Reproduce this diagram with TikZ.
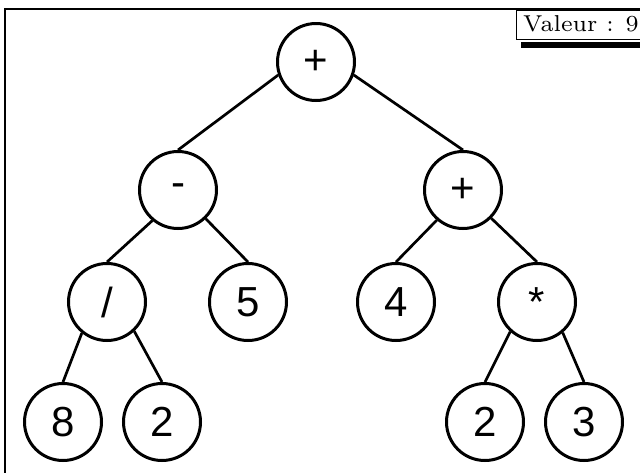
\documentclass[tikz,border=0pt]{standalone}
\usepackage{fontspec}
\newfontfamily\nodefont{Liberation Sans}
\newfontfamily\valfont{lmroman7-regular.otf}
\begin{document}
\begin{tikzpicture}[x=1pt,y=-1pt,
  treenode/.style={circle,draw,line width=3pt,minimum size=77pt,inner sep=0pt,
    font=\nodefont\fontsize{42}{46}\selectfont},
  edge/.style={line width=2.7pt}]
\useasboundingbox (0,0) rectangle (640,472);
\clip (0,0) rectangle (640,472);
\draw[line width=2.2pt] (5,9) rectangle (660,490);
% value box
\fill (521,42) rectangle (660,48);
\node[draw,fill=white,line width=1pt,minimum width=140pt,minimum height=29pt,anchor=north west,inner sep=0pt] (valbox) at (516,10) {};
\node[anchor=base west,font=\valfont\fontsize{23}{26}\selectfont,inner sep=0pt] (val) at (523,31) {Valeur : 9};
% tree
\node[treenode] (root) at (316,62) {+};
\node[treenode] (minus) at (178,190) {-};
\node[treenode] (plusb) at (463,190) {+};
\node[treenode] (div) at (107,302) {/};
\node[treenode] (five) at (248,302) {5};
\node[treenode] (four) at (396,302) {4};
\node[treenode] (star) at (537,302) {*};
\node[treenode] (eight) at (63,422) {8};
\node[treenode] (two) at (162,422) {2};
\node[treenode] (twob) at (485,422) {2};
\node[treenode] (three) at (584,422) {3};
\draw[edge] (root.199) -- (minus.north);
\draw[edge] (root.-19) -- (plusb.north);
\draw[edge] (minus.230) -- (div.north);
\draw[edge] (minus.-46) -- (five.north);
\draw[edge] (plusb.229) -- (four.north);
\draw[edge] (plusb.-45) -- (star.north);
\draw[edge] (div.231) -- (eight.north);
\draw[edge] (div.-47) -- (two.north);
\draw[edge] (star.228) -- (twob.north);
\draw[edge] (star.-50) -- (three.north);
\end{tikzpicture}
\end{document}
